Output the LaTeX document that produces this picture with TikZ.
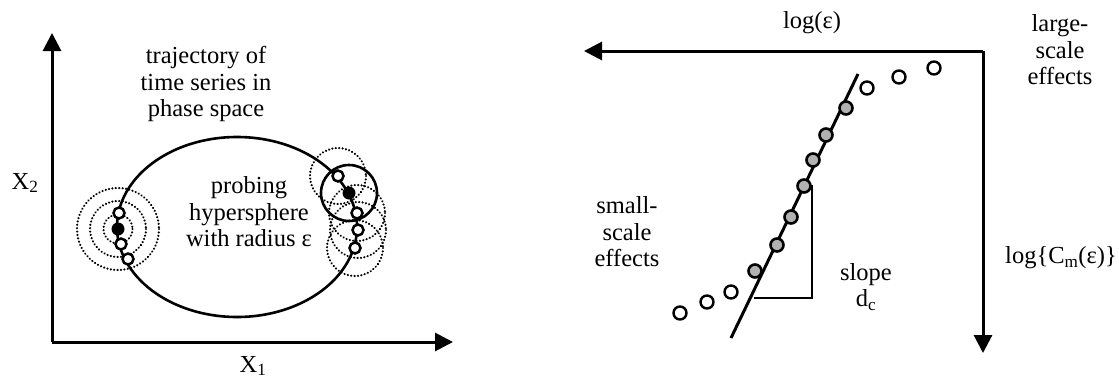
\documentclass[tikz,border=0pt]{standalone}
\usepackage{fontspec}
\setmainfont{Liberation Serif}
\usetikzlibrary{arrows.meta}
\begin{document}
\begin{tikzpicture}[x=1pt,y=-1pt,
  axis/.style={line width=3pt,-{Triangle[length=18pt,width=18pt]}},
  lbl/.style={font=\fontsize{24.5}{26.5}\selectfont,align=center,inner sep=0pt},
  traj/.style={line width=2.6pt},
  odot/.style={line width=2.5pt,fill=white},
  fdot/.style={fill=black},
  dotc/.style={line width=2.4pt,line cap=round,dash pattern=on 0.01pt off 3.4pt},
  shdot/.style={line width=2.6pt,fill=gray!60},
  opdot/.style={line width=2.4pt,fill=white}]
\useasboundingbox (0,0) rectangle (1119,378);
% ---------- left panel ----------
\coordinate (O) at (52,342);
\coordinate (Ytip) at (52,33);
\coordinate (Xtip) at (453,342);
\draw[axis] (O) -- (Ytip);
\draw[axis] (O) -- (Xtip);
\node[lbl] (x1) at (253,366) {X\textsubscript{1}};
\node[lbl] (x2) at (25,183) {X\textsubscript{2}};
\node[lbl] (traj) at (206,84) {trajectory of\\time series in\\phase space};
\node[lbl] (probe) at (249,212) {probing\\hypersphere\\with radius ε};
\coordinate (E) at (237,227);
\draw[traj] (E) ellipse (120 and 90);
% dotted circles (left)
\foreach \r in {14.5,28,41} \draw[dotc] (118,229) circle (\r);
% dotted circles (right)
\foreach \p in {(338,176),(357,213),(358,230),(355,248)} \draw[dotc] \p circle (28);
\draw[line width=2.6pt] (349,193) circle (28);
% dots left
\fill[fdot] (118,229) circle (6.5);
\foreach \p in {(119,213),(121,244),(128,259)} \draw[odot] \p circle (5.5);
% dots right
\fill[fdot] (349,193) circle (6.5);
\foreach \p in {(338,176),(357,213),(358,230),(355,248)} \draw[odot] \p circle (5.5);
% ---------- right panel ----------
\coordinate (C) at (983,51);
\coordinate (Htip) at (584,51);
\coordinate (Vtip) at (983,353);
\draw[axis] (C) -- (Htip);
\draw[axis] (C) -- (Vtip);
\node[lbl] (loge) at (812,23) {log(ε)};
\node[lbl] (large) at (1060,50) {large-\\scale\\effects};
\node[lbl] (small) at (627,232) {small-\\scale\\effects};
\node[lbl] (logc) at (1061,258) {log\{C\textsubscript{m}(ε)\}};
\node[lbl] (slope) at (866,287) {slope\\d\textsubscript{c}};
% fit line and triangle
\coordinate (F1) at (858,74);
\coordinate (F2) at (731,338);
\draw[line width=1.8pt] (754,298) -- (812,298) -- (812,185);
\draw[line width=3pt] (F1) -- (F2);
\foreach \p in {(680,313),(707,302),(731,292),(867,88),(899,77),(934,68)}
  \draw[opdot] \p circle (6.5);
\foreach \p in {(755,271),(777,245),(791,217),(804,186),(813,160),(826,135),(846,108)}
  \draw[shdot] \p circle (6.5);
\end{tikzpicture}
\end{document}
